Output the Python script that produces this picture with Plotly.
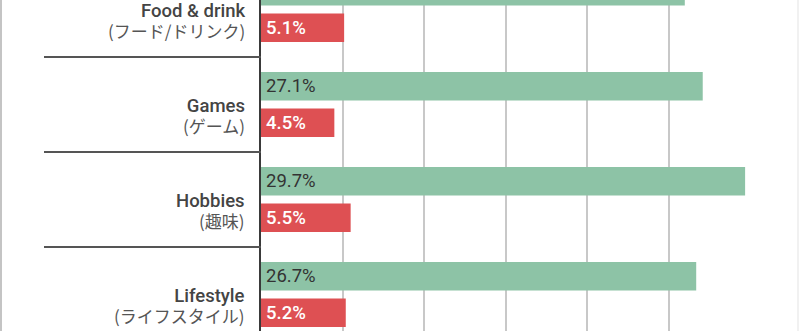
import plotly.graph_objects as go

# Category rows (top to bottom) and the two series shares in percent
categories_en = ["Food & drink", "Games", "Hobbies", "Lifestyle"]
categories_ja = ["(フード/ドリンク)", "(ゲーム)", "(趣味)", "(ライフスタイル)"]
green_values = [26.0, 27.1, 29.7, 26.7]
red_values = [5.1, 4.5, 5.5, 5.2]
grid_ticks = [0, 5, 10, 15, 20, 25]

GREEN = "#8dc3a6"
RED = "#de5053"
rows = list(range(len(categories_en)))

# bar layout: two bars per row, centred 0.192 rows above/below the row centre
BARGAP = 0.232
BARGROUPGAP = 0.219
half_slot = (1 - BARGAP) / 4

fig = go.Figure()
fig.add_trace(go.Bar(
    y=rows, x=green_values, orientation="h",
    marker=dict(color=GREEN, line=dict(width=0)), hoverinfo="skip",
))
fig.add_trace(go.Bar(
    y=rows, x=red_values, orientation="h",
    marker=dict(color=RED, line=dict(width=0)), hoverinfo="skip",
))

EN_STYLE = "font-family:Roboto;font-weight:500;font-size:18.5px;fill:#444444"
JA_STYLE = "font-family:'Noto Sans CJK JP';font-size:17px;fill:#555555"

annotations = []
for i, (en, ja) in enumerate(zip(categories_en, categories_ja)):
    annotations.append(dict(
        x=0, xref="paper", y=i, yref="y", xanchor="right", yanchor="middle",
        xshift=-14, yshift=-11.5, align="right", showarrow=False,
        text=(f"<span style=\"{EN_STYLE}\">{en}</span><br>"
              f"<span style=\"{JA_STYLE}\">{ja}</span>"),
        font=dict(family="Roboto", size=16.2, color="#444444"),
    ))

# value labels at the start of each bar
for i, (g, r) in enumerate(zip(green_values, red_values)):
    annotations.append(dict(
        x=0, xref="x", y=i - half_slot, yref="y", xanchor="left",
        yanchor="middle", xshift=3, text=f"{g:.1f}%", showarrow=False,
        font=dict(family="Roboto", size=18.5, color="#333333"),
    ))
    annotations.append(dict(
        x=0, xref="x", y=i + half_slot, yref="y", xanchor="left",
        yanchor="middle", xshift=3, text=f"{r:.1f}%", showarrow=False,
        font=dict(family="Roboto", size=18.5, color="#ffffff", weight=500),
    ))

shapes = []
# row dividers in the label column
for i in rows[:-1]:
    shapes.append(dict(
        type="line", xref="paper", yref="y",
        x0=(44 - 261) / 537, x1=0, y0=i + 0.5, y1=i + 0.5,
        line=dict(color="#555555", width=2),
    ))
# outer frame edges
shapes.append(dict(type="line", xref="paper", yref="paper",
                   x0=-260 / 537, x1=-260 / 537, y0=0, y1=1,
                   line=dict(color="#c4c4c4", width=2)))
shapes.append(dict(type="line", xref="paper", yref="paper",
                   x0=1.0, x1=1.0, y0=0, y1=1,
                   line=dict(color="#ececec", width=1.5)))

px_per_unit = 16.3
fig.update_layout(
    width=800, height=331,
    margin=dict(l=261, r=2, t=0, b=0),
    paper_bgcolor="white", plot_bgcolor="white",
    barmode="group", bargap=BARGAP, bargroupgap=BARGROUPGAP,
    showlegend=False,
    annotations=annotations, shapes=shapes,
    xaxis=dict(range=[0, 537 / px_per_unit], tickvals=grid_ticks,
               showticklabels=False, showgrid=True,
               gridcolor="#c8c8c8", gridwidth=1.5,
               zeroline=False, showline=False, ticks=""),
    yaxis=dict(range=[3 + 36.5 / 95, -9.5 / 95], showticklabels=False,
               showgrid=False, zeroline=False, ticks="",
               showline=True, linecolor="#3a3a3a", linewidth=2),
)

fig.write_html("out.html")
